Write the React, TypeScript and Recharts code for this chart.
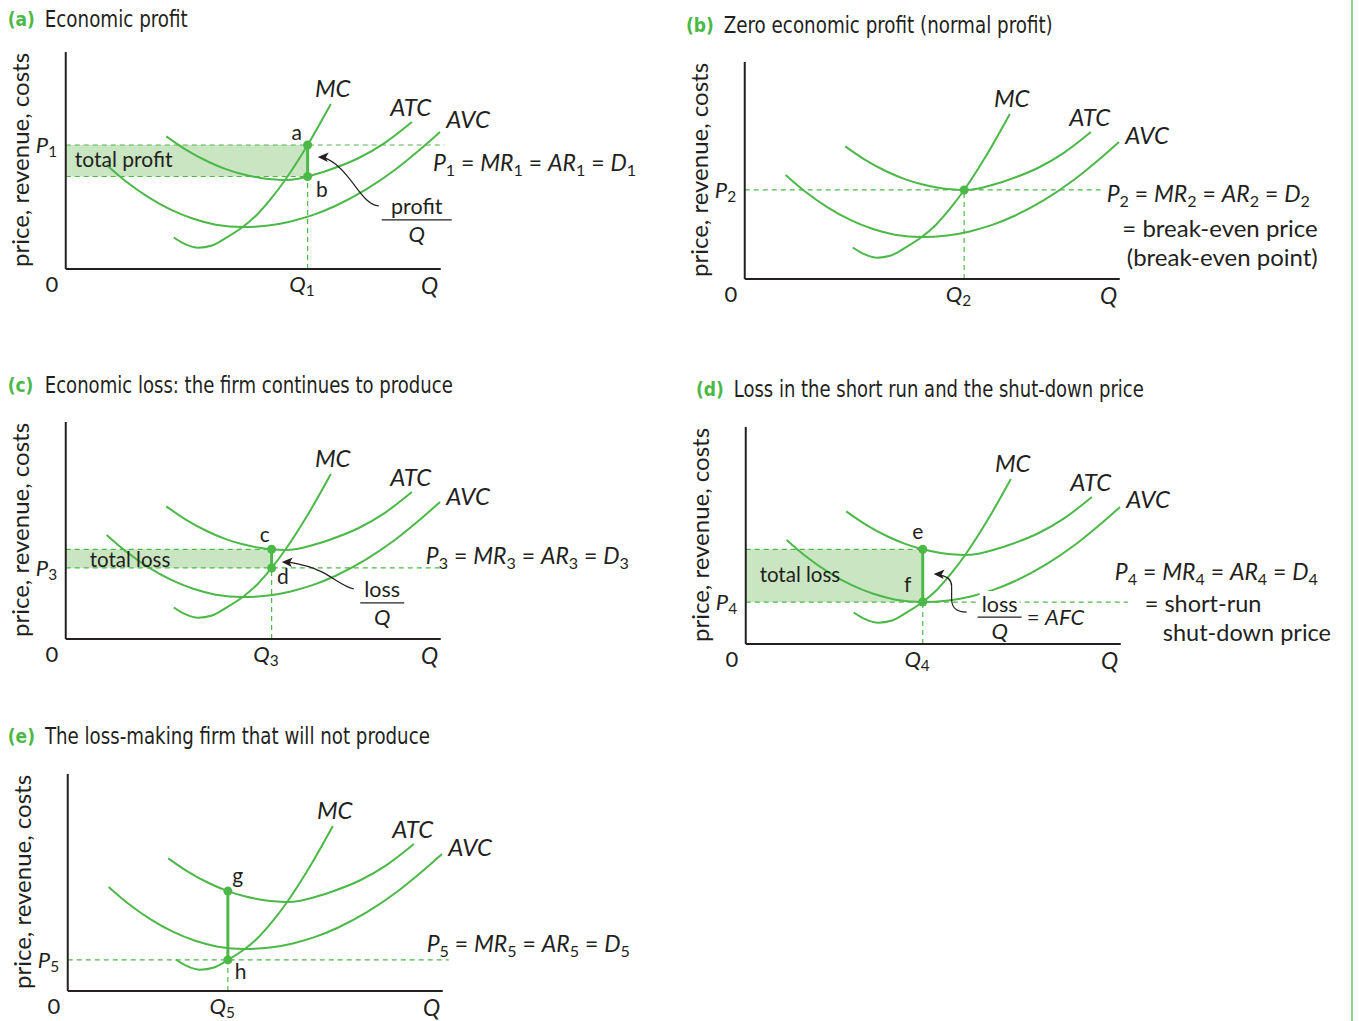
import React from "react";
import {
  ComposedChart,
  Line,
  XAxis,
  YAxis,
  ReferenceLine,
  ReferenceDot,
  ReferenceArea,
} from "recharts";

const GREEN = "#4cb848";
const SHADE = "#c9e5c1";
const INK = "#231f20";
const FONT = "Lato, 'Open Sans', sans-serif";
const TITLE_FONT = "'Liberation Sans Narrow', 'DejaVu Sans Condensed', sans-serif";

type Pt = { q: number; c: number };

// cost curves of the firm (same shape in every panel)
const mcCurve: Pt[] = [
  { q: 28.8, c: 14.5 }, { q: 32, c: 11.3 }, { q: 35.3, c: 9.8 }, { q: 39, c: 10.8 },
  { q: 42.7, c: 14.3 }, { q: 47.2, c: 19.3 }, { q: 51, c: 25.0 }, { q: 54.9, c: 32.7 },
  { q: 58.5, c: 41.0 }, { q: 64.5, c: 57.1 }, { q: 70.7, c: 76.0 },
];
const atcCurve: Pt[] = [
  { q: 26.8, c: 61.1 }, { q: 32, c: 55.0 }, { q: 38, c: 49.4 }, { q: 42.7, c: 46.0 },
  { q: 47.2, c: 43.6 }, { q: 52, c: 41.9 }, { q: 54.9, c: 41.3 }, { q: 58.5, c: 41.0 },
  { q: 62, c: 41.6 }, { q: 64.5, c: 42.6 }, { q: 70, c: 45.5 }, { q: 78, c: 51.0 },
  { q: 85, c: 58.0 }, { q: 92.3, c: 67.7 },
];
const avcCurve: Pt[] = [
  { q: 10.9, c: 47.9 }, { q: 16, c: 40.4 }, { q: 22, c: 33.1 }, { q: 28, c: 27.3 },
  { q: 34, c: 23.1 }, { q: 40, c: 20.4 }, { q: 47.2, c: 19.3 }, { q: 54, c: 20.0 },
  { q: 60, c: 21.9 }, { q: 66, c: 24.9 }, { q: 72, c: 29.1 }, { q: 80, c: 36.5 },
  { q: 88, c: 45.9 }, { q: 94, c: 54.3 }, { q: 99.8, c: 63.1 },
];

// price, chosen output and average total cost at that output, panels a..e
const prices = [57.1, 41.0, 32.7, 19.3, 14.3];
const outputs = [64.5, 58.5, 54.9, 47.2, 42.7];
const atcAtOutput = [42.6, 41.0, 41.3, 43.6, 46.0];
const subscripts = ["1", "2", "3", "4", "5"];
const panelTags = ["a", "b", "c", "d", "e"];
const panelTitles = [
  "Economic profit",
  "Zero economic profit (normal profit)",
  "Economic loss: the firm continues to produce",
  "Loss in the short run and the shut-down price",
  "The loss-making firm that will not produce",
];
const pointNames = [["a", "b"], [], ["c", "d"], ["e", "f"], ["g", "h"]];

// layout
const PX_X = 3.75;
const X_DOMAIN: [number, number] = [-17, 163];
const Y_DOMAIN: [number, number] = [-18, 123];
const CHART_W = 675;
const CHART_H = 306;
const PX_Y = CHART_H / (Y_DOMAIN[1] - Y_DOMAIN[0]);
const origins = [[66, 269], [745, 279], [66, 639], [746, 644], [68, 991]];
const titleWidths = [143, 329, 408, 410, 385];
const titleX = [[-15.5, -5.6], [-15.7, -5.6], [-15.5, -5.6], [-13.3, -3.2], [-16.0, -6.1]];
const titleY = [115.1, 117, 117, 117.4, 117.4];
const avcLabelY = [68.6, 65.9, 65.6, 66.4, 65.9];

const note = (key: string, x: number, y: number, draw: (cx: number, cy: number) => React.ReactNode) => (
  <ReferenceDot
    key={key}
    x={x}
    y={y}
    r={0}
    ifOverflow="visible"
    shape={(p: any) => <g>{draw(p.cx, p.cy)}</g>}
  />
);

const txt = (cx: number, cy: number, s: string, size = 21, anchor = "middle", italic = false) => (
  <text
    x={cx}
    y={cy + size * 0.35}
    fontFamily={FONT}
    fontSize={size}
    fill={INK}
    textAnchor={anchor as any}
    fontStyle={italic ? "italic" : "normal"}
  >
    {s}
  </text>
);

const subLabel = (cx: number, cy: number, main: string, sub: string, anchor = "middle", size = 22) => (
  <text x={cx} y={cy + size * 0.35} fontFamily={FONT} fontSize={size} fill={INK} textAnchor={anchor as any}>
    <tspan fontStyle="italic">{main}</tspan>
    <tspan fontSize={size * 0.7} dy={4}>{sub}</tspan>
  </text>
);

const eq = (cx: number, cy: number, sub: string, size = 23) => (
  <text x={cx} y={cy + size * 0.35} fontFamily={FONT} fontSize={size} fill={INK} style={{ whiteSpace: "pre" }}>
    {["P", "MR", "AR", "D"].map((t, i) => (
      <React.Fragment key={i}>
        {i > 0 && <tspan dy={-5}>{" = "}</tspan>}
        <tspan fontStyle="italic">{t}</tspan>
        <tspan fontSize={size * 0.7} dy={5}>{sub}</tspan>
      </React.Fragment>
    ))}
  </text>
);

const fraction = (cx: number, cy: number, top: string, halfW: number, gap: number, whiteBg = false) => (
  <>
    {whiteBg && <rect x={cx - halfW + 2} y={cy - gap - 12} width={halfW * 2 - 4} height={22} fill="#fff" />}
    {txt(cx, cy - gap + 1, top, 21.5)}
    <line x1={cx - halfW} x2={cx + halfW} y1={cy} y2={cy} stroke={INK} strokeWidth={1.3} />
    {txt(cx, cy + gap, "Q", 22, "middle", true)}
  </>
);

const arrow = (cx: number, cy: number, d: string) => (
  <>
    <path d={d} transform={`translate(${cx},${cy})`} fill="none" stroke={INK} strokeWidth={1.2} />
    <polygon points="0,0 11,-4.5 8,0.5 10,5" transform={`translate(${cx},${cy})`} fill={INK} />
  </>
);

function Panel({ i }: { i: number }) {
  const [ox, oy] = origins[i];
  const p = prices[i];
  const q = outputs[i];
  const atc = atcAtOutput[i];
  const sub = subscripts[i];
  const names = pointNames[i];
  const hasArea = i === 0 || i === 2 || i === 3;
  const priceEnd = [101, 96, 101.6, 101.9, 101.6][i];
  const dash = { stroke: GREEN, strokeWidth: 1.2, strokeDasharray: "5 4" };

  const extras: React.ReactNode[] = [];
  if (i === 0) {
    extras.push(note("na", 61.6, 62.6, (x, y) => txt(x, y, "a")));
    extras.push(note("nb", 68.3, 36.4, (x, y) => txt(x, y, "b")));
    extras.push(note("tp", 2.4, 50.2, (x, y) => txt(x, y, "total profit", 21, "start")));
    extras.push(note("eq", 97.9, 48.8, (x, y) => eq(x, y, sub)));
    extras.push(note("fr", 93.6, 22.6, (x, y) => fraction(x, y, "profit", 35, 14)));
    extras.push(note("ar", 67.2, 51.6, (x, y) => arrow(x, y, "M61,49 C49,48 41,33 31,21 C23,11 15,3 6,1")));
  } else if (i === 1) {
    extras.push(note("eq", 96.5, 39.2, (x, y) => eq(x, y, sub)));
    extras.push(note("l2", 152.8, 23.0, (x, y) => txt(x, y, "= break-even price", 24, "end")));
    extras.push(note("l3", 152.8, 9.7, (x, y) => txt(x, y, "(break-even point)", 24, "end")));
  } else if (i === 2) {
    extras.push(note("nc", 53.1, 47.9, (x, y) => txt(x, y, "c")));
    extras.push(note("nd", 57.9, 28.6, (x, y) => txt(x, y, "d")));
    extras.push(note("tl", 6.4, 36.4, (x, y) => txt(x, y, "total loss", 20.5, "start")));
    extras.push(note("eq", 96, 38.2, (x, y) => eq(x, y, sub)));
    extras.push(note("fr", 84.4, 16.6, (x, y) => fraction(x, y, "loss", 22, 14)));
    extras.push(note("ar", 57.6, 35.5, (x, y) => arrow(x, y, "M72,27 C62,25 52,16 40,10 C30,5 18,2 6,0")));
  } else if (i === 3) {
    extras.push(note("ne", 45.9, 51.6, (x, y) => txt(x, y, "e")));
    extras.push(note("nf", 43.2, 27.2, (x, y) => txt(x, y, "f")));
    extras.push(note("tl", 3.7, 31.8, (x, y) => txt(x, y, "total loss", 20.5, "start")));
    extras.push(note("eq", 98.4, 33.2, (x, y) => eq(x, y, sub)));
    extras.push(note("l2", 106.4, 18.4, (x, y) => txt(x, y, "= short-run", 23.5, "start")));
    extras.push(note("l3", 111.2, 5.3, (x, y) => txt(x, y, "shut-down price", 23.5, "start")));
    extras.push(note("fr", 67.7, 12.4, (x, y) => fraction(x, y, "loss", 22, 14, true)));
    extras.push(note("afc", 74.9, 12.0, (x, y) => (
      <text x={x} y={y + 7.5} fontFamily={FONT} fontSize={22} fill={INK} style={{ whiteSpace: "pre" }}>
        {"= "}<tspan fontStyle="italic">AFC</tspan>
      </text>
    )));
    extras.push(note("ar", 50.1, 32.2, (x, y) => arrow(x, y, "M33,38 C23,38 18,34 18,25 L18,12 C18,5 13,2 6,1")));
  } else {
    extras.push(note("ng", 45.3, 53.0, (x, y) => txt(x, y, "g")));
    extras.push(note("nh", 46.1, 8.8, (x, y) => txt(x, y, "h")));
    extras.push(note("eq", 95.7, 21.6, (x, y) => eq(x, y, sub)));
  }

  return (
    <div style={{ position: "absolute", left: ox - 17 * PX_X, top: oy - Y_DOMAIN[1] * PX_Y }}>
      <ComposedChart width={CHART_W} height={CHART_H} margin={{ top: 0, right: 0, bottom: 0, left: 0 }}>
        <XAxis type="number" dataKey="q" domain={X_DOMAIN} hide allowDataOverflow />
        <YAxis type="number" dataKey="c" domain={Y_DOMAIN} hide allowDataOverflow />
        {hasArea && (
          <ReferenceArea x1={0} x2={q} y1={Math.min(p, atc)} y2={Math.max(p, atc)} fill={SHADE} fillOpacity={1} stroke="none" />
        )}
        {i !== 1 && i !== 4 && (
          <ReferenceLine segment={[{ x: 0, y: atc }, { x: q, y: atc }]} {...dash} />
        )}
        <ReferenceLine segment={[{ x: 0, y: p }, { x: priceEnd, y: p }]} {...dash} ifOverflow="visible" />
        <ReferenceLine segment={[{ x: q, y: 0 }, { x: q, y: Math.min(p, atc) }]} {...dash} />
        <ReferenceLine segment={[{ x: 0, y: 0 }, { x: 0, y: 100 }]} stroke={INK} strokeWidth={2} />
        <ReferenceLine segment={[{ x: 0, y: 0 }, { x: 100, y: 0 }]} stroke={INK} strokeWidth={2} />
        <Line data={avcCurve} dataKey="c" type="monotone" stroke={GREEN} strokeWidth={2} dot={false} isAnimationActive={false} />
        <Line data={atcCurve} dataKey="c" type="monotone" stroke={GREEN} strokeWidth={2} dot={false} isAnimationActive={false} />
        <Line data={mcCurve} dataKey="c" type="monotone" stroke={GREEN} strokeWidth={2} dot={false} isAnimationActive={false} />
        {names.length > 0 && (
          <ReferenceLine segment={[{ x: q, y: p }, { x: q, y: atc }]} stroke={GREEN} strokeWidth={3} />
        )}
        {names.length > 0 && <ReferenceDot x={q} y={atc} r={4.5} fill={GREEN} stroke="none" />}
        <ReferenceDot x={q} y={p} r={4.5} fill={GREEN} stroke="none" />
        {note("mc", 71.2, 83.3, (x, y) => txt(x, y, "MC", 24, "middle", true))}
        {note("atc", 92, 74.4, (x, y) => txt(x, y, "ATC", 24, "middle", true))}
        {note("avc", 107.3, avcLabelY[i], (x, y) => txt(x, y, "AVC", 24, "middle", true))}
        {note("pl", -1.5, p, (x, y) => subLabel(x - 3, y, "P", sub, "end"))}
        {note("zero", -3.7, -6.9, (x, y) => txt(x, y, "0", 22))}
        {note("ql", q - 1.5, -7.2, (x, y) => subLabel(x, y, "Q", sub))}
        {note("qq", 97, -7.9, (x, y) => txt(x, y, "Q", 23, "middle", true))}
        {note("yt", -11.6, 50.2, (x, y) => (
          <text
            x={x}
            y={y}
            transform={`rotate(-90 ${x} ${y})`}
            dy={7}
            fontFamily={FONT}
            fontSize={24}
            fill={INK}
            textAnchor="middle"
          >
            price, revenue, costs
          </text>
        ))}
        {note("tag", titleX[i][0], titleY[i], (x, y) => (
          <text x={x} y={y + 7} fontFamily={TITLE_FONT} fontSize={19} fontWeight="bold" fill={GREEN}>
            ({panelTags[i]})
          </text>
        ))}
        {note("title", titleX[i][1], titleY[i], (x, y) => (
          <text
            x={x}
            y={y + 8}
            fontFamily={TITLE_FONT}
            fontSize={23}
            fill={INK}
            textLength={titleWidths[i]}
            lengthAdjust="spacingAndGlyphs"
          >
            {panelTitles[i]}
          </text>
        ))}
        {extras}
      </ComposedChart>
    </div>
  );
}

export default function App() {
  return (
    <div
      style={{
        position: "absolute",
        left: 0,
        top: 0,
        width: 1359,
        height: 1021,
        overflow: "hidden",
        background: "#fff",
      }}
    >
      {[0, 1, 2, 3, 4].map((i) => (
        <Panel key={i} i={i} />
      ))}
      <div style={{ position: "absolute", left: 1351, top: 0, width: 2, height: 1021, background: "#93d493" }} />
    </div>
  );
}
